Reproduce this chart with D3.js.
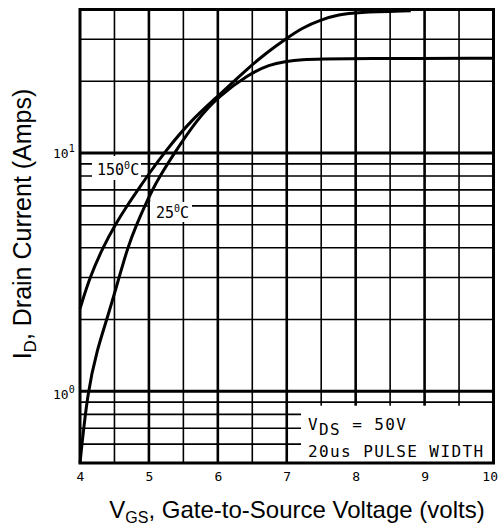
<!DOCTYPE html>
<html>
<head>
<meta charset="utf-8">
<script src="https://cdn.jsdelivr.net/npm/d3@7"></script>
<style>
  body { margin: 0; background: #fff; }
  svg { display: block; }
</style>
</head>
<body>
<div id="chart"></div>
<script>
// tick values and grid positions
const xTicks = [4, 5, 6, 7, 8, 9, 10];
const xGridMajor = [5, 6, 7, 8, 9];
const xGridMinor = [4.5, 5.5, 6.5, 7.5, 8.5, 9.5];
const yGridMajor = [1, 10];
const yGridMinor = [0.6, 0.7, 0.8, 0.9, 2, 3, 4, 5, 6, 7, 8, 9, 20, 30];
const yLabels = [1, 10];

// transfer curves (VGS in volts, ID in amps)
const vgs150 = [4.0, 4.14, 4.33, 4.51, 4.69, 4.87, 4.99, 5.23, 5.6, 6.0, 6.45, 6.75, 6.97, 7.23, 7.5, 7.76, 8.0, 8.8];
const id150  = [2.22, 3.0, 4.0, 5.0, 6.05, 7.2, 8.1, 10.1, 13.6, 17.3, 22.9, 26.9, 29.9, 33.6, 36.3, 38.1, 38.9, 39.5];
const vgs25 = [4.0, 4.11, 4.25, 4.39, 4.56, 4.69, 4.82, 4.94, 5.05, 5.16, 5.37, 5.69, 6.0, 6.46, 6.75, 6.97, 7.23, 7.5, 8.0, 10.0];
const id25  = [0.5, 1.0, 1.5, 2.0, 2.95, 4.0, 5.0, 6.0, 7.0, 8.0, 10.0, 13.7, 17.2, 21.5, 23.5, 24.2, 24.7, 24.8, 24.9, 25.0];

const width = 498;
const height = 529;
const margin = { top: 9.5, right: 4.5, bottom: 66, left: 80 };

const svg = d3.select('#chart')
  .append('svg')
  .attr('width', width)
  .attr('height', height);

const x = d3.scaleLinear()
  .domain([4, 10])
  .range([margin.left, width - margin.right]);

const y = d3.scaleLog()
  .domain([0.5, 40])
  .range([height - margin.bottom, margin.top]);

const grid = svg.append('g');

grid.selectAll('.vminor')
  .data(xGridMinor)
  .enter()
  .append('line')
  .attr('x1', d => x(d)).attr('x2', d => x(d))
  .attr('y1', y.range()[0]).attr('y2', y.range()[1])
  .attr('stroke', '#000').attr('stroke-width', 1.6);

grid.selectAll('.vmajor')
  .data(xGridMajor)
  .enter()
  .append('line')
  .attr('x1', d => x(d)).attr('x2', d => x(d))
  .attr('y1', y.range()[0]).attr('y2', y.range()[1])
  .attr('stroke', '#000').attr('stroke-width', 2.6);

grid.selectAll('.hminor')
  .data(yGridMinor)
  .enter()
  .append('line')
  .attr('x1', x.range()[0]).attr('x2', x.range()[1])
  .attr('y1', d => y(d)).attr('y2', d => y(d))
  .attr('stroke', '#000').attr('stroke-width', 1.6);

grid.selectAll('.hmajor')
  .data(yGridMajor)
  .enter()
  .append('line')
  .attr('x1', x.range()[0]).attr('x2', x.range()[1])
  .attr('y1', d => y(d)).attr('y2', d => y(d))
  .attr('stroke', '#000').attr('stroke-width', 3);

// white patches behind the labels
svg.append('rect')
  .attr('x', 301).attr('y', y(0.87))
  .attr('width', x(10) - 301).attr('height', y(0.5) - y(0.87))
  .attr('fill', '#fff');

svg.append('rect')
  .attr('x', 92).attr('y', 156)
  .attr('width', 49).attr('height', 24)
  .attr('fill', '#fff');

svg.append('rect')
  .attr('x', 150).attr('y', 202)
  .attr('width', 42).attr('height', 20)
  .attr('fill', '#fff');

// frame
svg.append('rect')
  .attr('x', x(4)).attr('y', y(40))
  .attr('width', x(10) - x(4)).attr('height', y(0.5) - y(40))
  .attr('fill', 'none')
  .attr('stroke', '#000')
  .attr('stroke-width', 3);

const line = d3.line()
  .x(d => x(d[0]))
  .y(d => y(d[1]))
  .curve(d3.curveBasis);

svg.append('path')
  .datum(d3.zip(vgs150, id150))
  .attr('d', line)
  .attr('fill', 'none')
  .attr('stroke', '#000')
  .attr('stroke-width', 3);

svg.append('path')
  .datum(d3.zip(vgs25, id25))
  .attr('d', line)
  .attr('fill', 'none')
  .attr('stroke', '#000')
  .attr('stroke-width', 3);

// curve labels
const mono = "'DejaVu Sans Mono', monospace";

const t150 = svg.append('text')
  .attr('x', 97).attr('y', 175)
  .style('font-family', mono).style('font-size', '15px');
t150.append('tspan').text('150');
t150.append('tspan').attr('dy', -6).style('font-size', '10px').text('0');
t150.append('tspan').attr('dy', 6).text('C');

const t25 = svg.append('text')
  .attr('x', 156).attr('y', 218)
  .style('font-family', mono).style('font-size', '15px');
t25.append('tspan').text('25');
t25.append('tspan').attr('dy', -6).style('font-size', '10px').text('0');
t25.append('tspan').attr('dy', 6).text('C');

// legend text
const leg1 = svg.append('text')
  .attr('x', 308).attr('y', 430)
  .style('font-family', mono).style('font-size', '16px')
  .style('letter-spacing', '1.4px');
leg1.append('tspan').text('V');
leg1.append('tspan').attr('dy', 5).text('DS');
leg1.append('tspan').attr('dy', -5).text(' = 50V');

svg.append('text')
  .attr('x', 308).attr('y', 457)
  .style('font-family', mono).style('font-size', '16px')
  .style('letter-spacing', '1.4px')
  .text('20us PULSE WIDTH');

// x tick labels
const xAxis = svg.append('g')
  .attr('transform', `translate(0, ${height - margin.bottom})`)
  .call(d3.axisBottom(x).tickValues(xTicks).tickSize(0).tickPadding(9).tickFormat(d3.format('d')));
xAxis.select('.domain').remove();
xAxis.selectAll('text')
  .style('font-family', mono)
  .style('font-size', '13px')
  .style('fill', '#000');
// keep the last label inside the window
xAxis.selectAll('.tick')
  .filter(d => d === 10)
  .select('text')
  .attr('text-anchor', 'end')
  .attr('x', 4);

// y tick labels (powers of ten)
const yl = svg.selectAll('.ylab')
  .data(yLabels)
  .enter()
  .append('text')
  .attr('x', 53)
  .attr('y', d => y(d) + (d === 1 ? 8 : 5))
  .style('font-family', mono)
  .style('font-size', '13px');
yl.append('tspan').text('10');
yl.append('tspan').attr('dy', -6).style('font-size', '10px').text(d => Math.round(Math.log10(d)));

// axis titles
const sans = "'Liberation Sans', Arial, sans-serif";

const xt = svg.append('text')
  .attr('x', 297)
  .attr('y', 518)
  .attr('text-anchor', 'middle')
  .style('font-family', sans)
  .style('font-size', '24px');
xt.append('tspan').text('V');
xt.append('tspan').attr('dy', 5).style('font-size', '16px').text('GS');
xt.append('tspan').attr('dy', -5).text(', Gate-to-Source Voltage (volts)');

const yt = svg.append('text')
  .attr('transform', `translate(31, 224) rotate(-90)`)
  .attr('text-anchor', 'middle')
  .style('font-family', sans)
  .style('font-size', '25px');
yt.append('tspan').text('I');
yt.append('tspan').attr('dy', 5).style('font-size', '17px').text('D');
yt.append('tspan').attr('dy', -5).text(', Drain Current (Amps)');
</script>
</body>
</html>
